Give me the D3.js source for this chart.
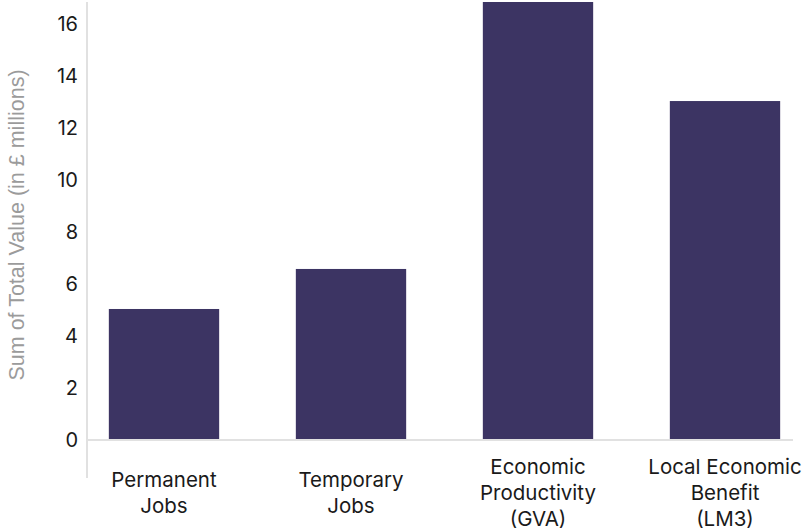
<!DOCTYPE html>
<html>
<head>
<meta charset="utf-8">
<script src="https://cdn.jsdelivr.net/npm/d3@7"></script>
<style>
  html, body { margin: 0; padding: 0; background: #ffffff; }
  svg { display: block; }
</style>
</head>
<body>
<svg id="chart" width="805" height="529"></svg>
<script>
// Impact values by category (in £ millions)
const categories = [
  ["Permanent", "Jobs"],
  ["Temporary", "Jobs"],
  ["Economic", "Productivity", "(GVA)"],
  ["Local Economic", "Benefit", "(LM3)"]
];
const categoryKeys = ["Permanent Jobs", "Temporary Jobs", "Economic Productivity (GVA)", "Local Economic Benefit (LM3)"];
const values = [5.04, 6.58, 16.85, 13.04];
const yTicks = [0, 2, 4, 6, 8, 10, 12, 14, 16];
const yTitle = "Sum of Total Value (in £ millions)";

const svg = d3.select("#chart");
const barColor = "#3c3463";
const axisColor = "#e1e1e1";
const textFont = "Inter, 'Noto Sans', sans-serif";

const x = d3.scaleBand()
  .domain(categoryKeys)
  .range([70.5, 818.5])
  .paddingInner(0.41)
  .paddingOuter(0.205);

const y = d3.scaleLinear()
  .domain([0, 16.85])
  .range([440, 2]);

// Bars
svg.append("g")
  .selectAll("rect")
  .data(values)
  .join("rect")
  .attr("x", (d, i) => x(categoryKeys[i]))
  .attr("y", d => y(d))
  .attr("width", x.bandwidth())
  .attr("height", d => y(0) - y(d))
  .attr("fill", barColor);

// Vertical axis line
svg.append("line")
  .attr("x1", 87).attr("x2", 87)
  .attr("y1", 2).attr("y2", 478)
  .attr("stroke", axisColor).attr("stroke-width", 2);

// Baseline
svg.append("line")
  .attr("x1", 88).attr("x2", 793)
  .attr("y1", y(0)).attr("y2", y(0))
  .attr("stroke", axisColor).attr("stroke-width", 2);

// Y tick labels via d3 axis
const yAxis = d3.axisLeft(y)
  .tickValues(yTicks)
  .tickSize(0)
  .tickPadding(0)
  .tickFormat(d3.format("d"));

const gy = svg.append("g")
  .attr("transform", "translate(78,0)")
  .call(yAxis);
gy.select(".domain").remove();
gy.selectAll("text")
  .attr("font-family", textFont)
  .attr("font-size", 20)
  .attr("fill", "#1a1a1a");

// Y axis title
svg.append("text")
  .attr("transform", "translate(24,225) rotate(-90)")
  .attr("text-anchor", "middle")
  .attr("font-family", "'Liberation Sans', Arial, sans-serif")
  .attr("font-size", 21.5)
  .attr("fill", "#9b9b9b")
  .text(yTitle);

// X category labels, multi-line, centred on each bar
const lineH = 26;
const gx = svg.append("g");
categories.forEach((lines, i) => {
  const cx = x(categoryKeys[i]) + x.bandwidth() / 2;
  const startY = 493 - (lines.length - 1) * lineH / 2;
  const t = gx.append("text")
    .attr("text-anchor", "middle")
    .attr("font-family", textFont)
    .attr("font-size", 20.5)
    .attr("fill", "#1a1a1a");
  lines.forEach((ln, j) => {
    t.append("tspan")
      .attr("x", cx)
      .attr("y", startY + j * lineH)
      .attr("dy", "0.35em")
      .text(ln);
  });
});
</script>
</body>
</html>
